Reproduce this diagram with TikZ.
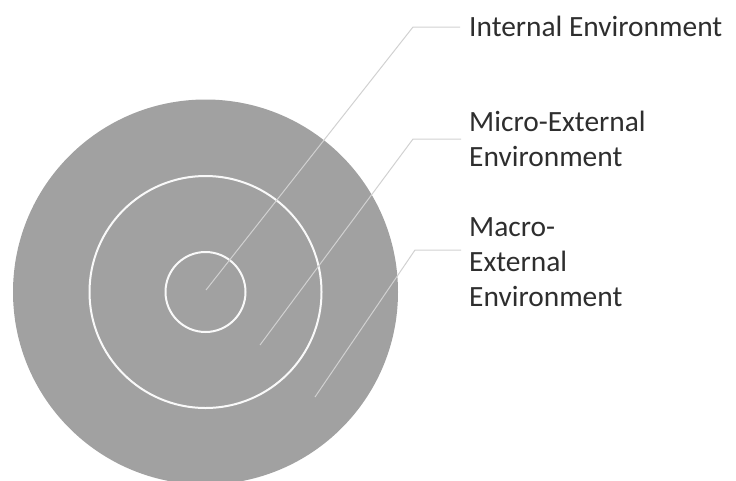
\documentclass[tikz,border=0pt]{standalone}
\usepackage{fontspec}
\setmainfont{Carlito}
\begin{document}
\begin{tikzpicture}[x=1pt,y=-1pt,
  ring/.style={draw=white!95!gray, line width=2pt},
  leader/.style={draw=black!18, line width=1pt},
  lbl/.style={anchor=base west, inner sep=0pt, align=left, text=black!82,
    font=\fontsize{29.4}{35}\selectfont}]
\useasboundingbox (0,0) rectangle (736,480);
\coordinate (c) at (205.5,292);
\fill[black!37] (c) circle[radius=192.5];
\node[circle, ring, minimum size=232pt, inner sep=0pt] (mid) at (c) {};
\node[circle, ring, minimum size=80pt, inner sep=0pt] (inn) at (c) {};
% labels (base anchor = baseline of last line)
\node[lbl] (l1) at (469,36) {Internal Environment};
\node[lbl] (l2) at (469,166) {Micro-External\\Environment};
\node[lbl] (l3) at (469,306) {Macro-\\External\\Environment};
% leaders
\coordinate (s1) at (206,290);
\coordinate (b1) at (413,27);
\coordinate (e1) at (460,27);
\coordinate (s2) at (260,345);
\coordinate (b2) at (413,139);
\coordinate (e2) at (461,139);
\coordinate (s3) at (315,397);
\coordinate (b3) at (415,250);
\coordinate (e3) at (461,250);
\draw[leader] (s1) -- (b1) -- (e1);
\draw[leader] (s2) -- (b2) -- (e2);
\draw[leader] (s3) -- (b3) -- (e3);
\end{tikzpicture}
\end{document}
